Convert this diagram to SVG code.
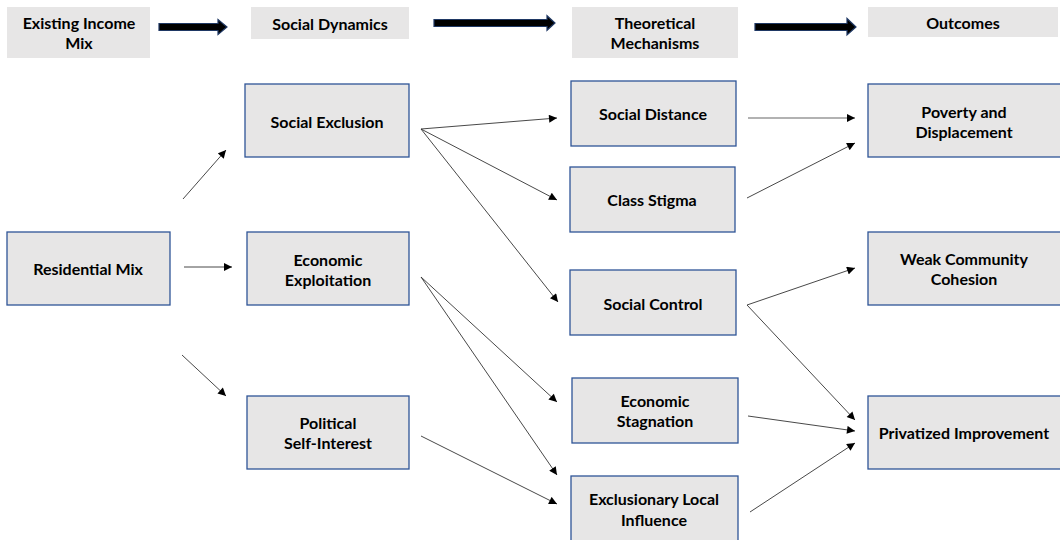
<svg xmlns="http://www.w3.org/2000/svg" width="1060" height="540" viewBox="0 0 1060 540">
<defs>
<marker id="ah" viewBox="0 0 10 10" refX="10" refY="5" markerWidth="9" markerHeight="8" markerUnits="userSpaceOnUse" orient="auto">
<path d="M0,0 L10,5 L0,10 z" fill="#000"/>
</marker>
</defs>
<style>
.hdr{fill:#e7e6e6;stroke:none}
.box{fill:#e7e6e6;stroke:#2f5597;stroke-width:1.3}
text{font-family:Lato,"Liberation Sans",Arial,sans-serif;font-weight:bold;font-size:16px;fill:#000;text-anchor:middle;dominant-baseline:central}
.big{fill:#000;stroke:#1f3864;stroke-width:1.2}
.c{stroke:#333;stroke-width:0.9;fill:none;marker-end:url(#ah)}
</style>
<rect width="1060" height="540" fill="#fff"/>
<g id="headers">
<g id="h1"><rect class="hdr" x="7" y="7" width="143" height="51"/><text x="79" y="22">Existing Income</text><text x="79" y="42">Mix</text></g>
<g id="h2"><rect class="hdr" x="251" y="7" width="158" height="32"/><text x="330" y="23">Social Dynamics</text></g>
<g id="h3"><rect class="hdr" x="572" y="7" width="166" height="51"/><text x="655" y="22">Theoretical</text><text x="655" y="42">Mechanisms</text></g>
<g id="h4"><rect class="hdr" x="868" y="7" width="190" height="30"/><text x="963" y="22">Outcomes</text></g>
<path class="big" d="M159,23.5 H218 V19.5 L227,27 L218,34.5 V30.5 H159 Z"/>
<path class="big" d="M434,19.5 H547 V15.7 L555,23 L547,30.3 V26.5 H434 Z"/>
<path class="big" d="M755,23.5 H847 V18.5 L856,27 L847,35 V30.5 H755 Z"/>
</g>
<g id="residential-mix"><rect class="box" x="7" y="232" width="163" height="73"/><text x="88" y="268">Residential Mix</text></g>
<g id="social-exclusion"><rect class="box" x="245" y="84" width="164" height="73"/><text x="327" y="121">Social Exclusion</text></g>
<g id="economic-exploitation"><rect class="box" x="247" y="232" width="162" height="73"/><text x="328" y="259">Economic</text><text x="328" y="279">Exploitation</text></g>
<g id="political-self-interest"><rect class="box" x="247" y="396" width="162" height="73"/><text x="328" y="422">Political</text><text x="328" y="442">Self-Interest</text></g>
<g id="social-distance"><rect class="box" x="571" y="81" width="165" height="65"/><text x="653" y="113">Social Distance</text></g>
<g id="class-stigma"><rect class="box" x="570" y="167" width="165" height="65"/><text x="652" y="199">Class Stigma</text></g>
<g id="social-control"><rect class="box" x="570" y="270" width="166" height="65"/><text x="653" y="303">Social Control</text></g>
<g id="economic-stagnation"><rect class="box" x="572" y="378" width="166" height="65"/><text x="655" y="400">Economic</text><text x="655" y="420">Stagnation</text></g>
<g id="exclusionary-local-influence"><rect class="box" x="571" y="476" width="167" height="70"/><text x="654" y="498">Exclusionary Local</text><text x="654" y="519">Influence</text></g>
<g id="poverty-displacement"><rect class="box" x="868" y="84" width="196" height="73"/><text x="964" y="111">Poverty and</text><text x="964" y="131">Displacement</text></g>
<g id="weak-community-cohesion"><rect class="box" x="868" y="232" width="196" height="73"/><text x="964" y="258">Weak Community</text><text x="964" y="278">Cohesion</text></g>
<g id="privatized-improvement"><rect class="box" x="868" y="396" width="196" height="73"/><text x="964" y="432">Privatized Improvement</text></g>
<g id="connectors">
<line class="c" x1="183" y1="199" x2="226" y2="150"/>
<line class="c" x1="184" y1="267" x2="232" y2="267"/>
<line class="c" x1="182" y1="355" x2="226" y2="396"/>
<line class="c" x1="421" y1="129" x2="557" y2="118"/>
<line class="c" x1="421" y1="129" x2="557" y2="200"/>
<line class="c" x1="421" y1="129" x2="558" y2="302"/>
<line class="c" x1="421" y1="277" x2="557" y2="402"/>
<line class="c" x1="421" y1="277" x2="557" y2="475"/>
<line class="c" x1="421" y1="436" x2="557" y2="504"/>
<line class="c" x1="748" y1="118" x2="855" y2="118" style="stroke:#999;stroke-width:1.3"/>
<line class="c" x1="747" y1="198" x2="855" y2="143"/>
<line class="c" x1="747" y1="305" x2="855" y2="268"/>
<line class="c" x1="747" y1="305" x2="855" y2="420"/>
<line class="c" x1="748" y1="416" x2="855" y2="431"/>
<line class="c" x1="750" y1="512" x2="855" y2="443"/>
</g>
</svg>
